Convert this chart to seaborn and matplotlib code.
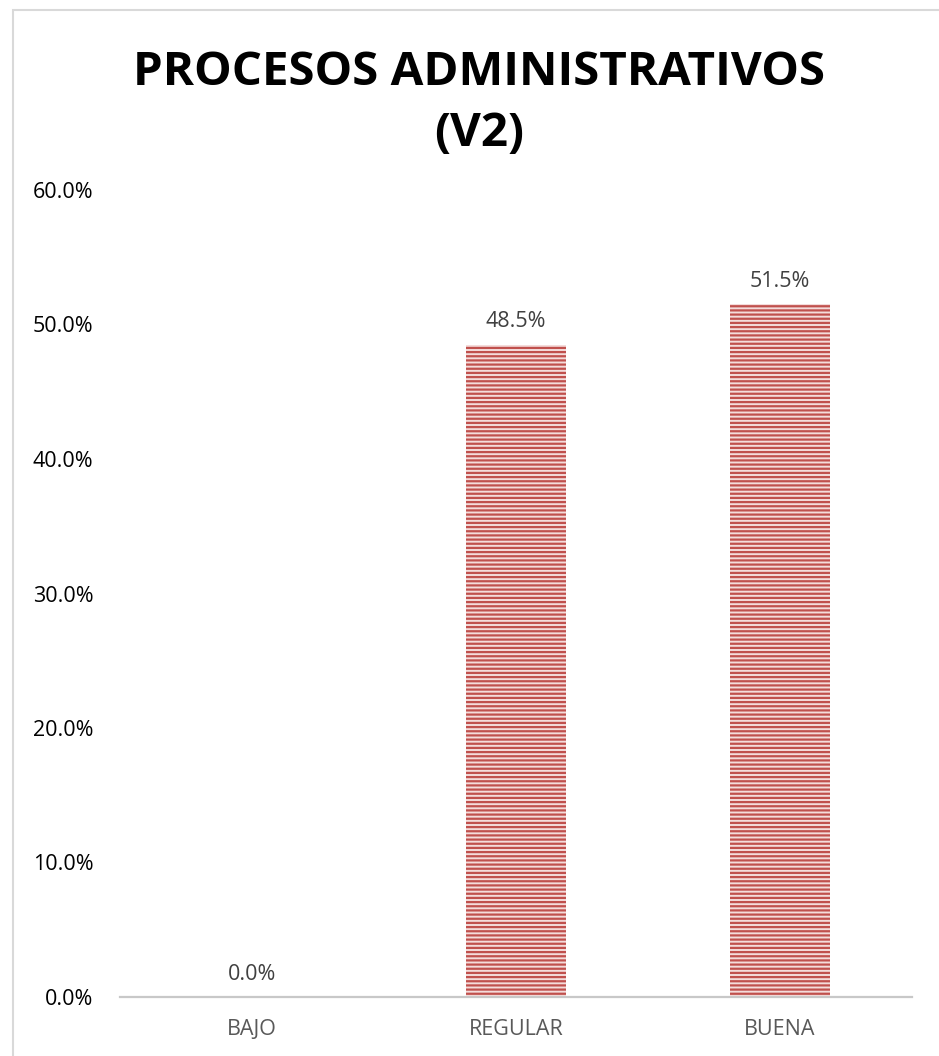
import matplotlib
matplotlib.use("Agg")
import matplotlib.pyplot as plt
import seaborn as sns
import pandas as pd
from matplotlib.patches import Rectangle

categories = ["BAJO", "REGULAR", "BUENA"]
values = [0.0, 48.5, 51.5]
yticks = [0, 10, 20, 30, 40, 50, 60]
title = "PROCESOS ADMINISTRATIVOS\n(V2)"

sns.set_theme(style="white")
plt.rcParams['font.family'] = ['Open Sans', 'DejaVu Sans']
plt.rcParams['hatch.linewidth'] = 1.6

df = pd.DataFrame({"cat": categories, "val": values})

fig = plt.figure(figsize=(9.39, 10.56), dpi=100)
ax = fig.add_axes([120/939, 1-997/1056, (912-120)/939, (997-190)/1056])

sns.barplot(data=df, x="cat", y="val", ax=ax, width=0.38,
            color="#F2DCDB", edgecolor="#C0504D", linewidth=0, saturation=1)
for p in ax.patches:
    p.set_hatch("----")
    p.set_edgecolor("#C0504D")
    p.set_facecolor("#F4DCDB")

for i, v in enumerate(values):
    ax.annotate(f"{v:.1f}%", xy=(i, v), xytext=(0, 9), textcoords="offset points",
                ha="center", va="bottom", fontsize=15.5, color="#404040")

ax.set_ylim(0, 60)
ax.set_xlim(-0.5, 2.5)
ax.set_yticks(yticks)
ax.set_yticklabels([f"{t:.1f}%" for t in yticks], fontsize=15.5, color="#000000")
ax.tick_params(axis="y", length=0, pad=19)
ax.tick_params(axis="x", length=0, pad=16, labelsize=15.5, labelcolor="#595959")
ax.set_xlabel("")
ax.set_ylabel("")
for s in ["top", "right", "left"]:
    ax.spines[s].set_visible(False)
ax.spines["bottom"].set_color("#C8C8C8")
ax.spines["bottom"].set_linewidth(1.6)
ax.grid(False)

fig.text(479/939, 1-103/1056, title, ha="center", va="center", fontsize=34.2,
         fontweight="bold", color="#000000", linespacing=1.38, multialignment="center")

fig.patches.append(Rectangle((13/939, -0.1), 1.2, 1-10/1056+0.1, transform=fig.transFigure,
                             fill=False, edgecolor="#D9D9D9", linewidth=1.5, zorder=0))

fig.savefig("out.png", dpi=100)
